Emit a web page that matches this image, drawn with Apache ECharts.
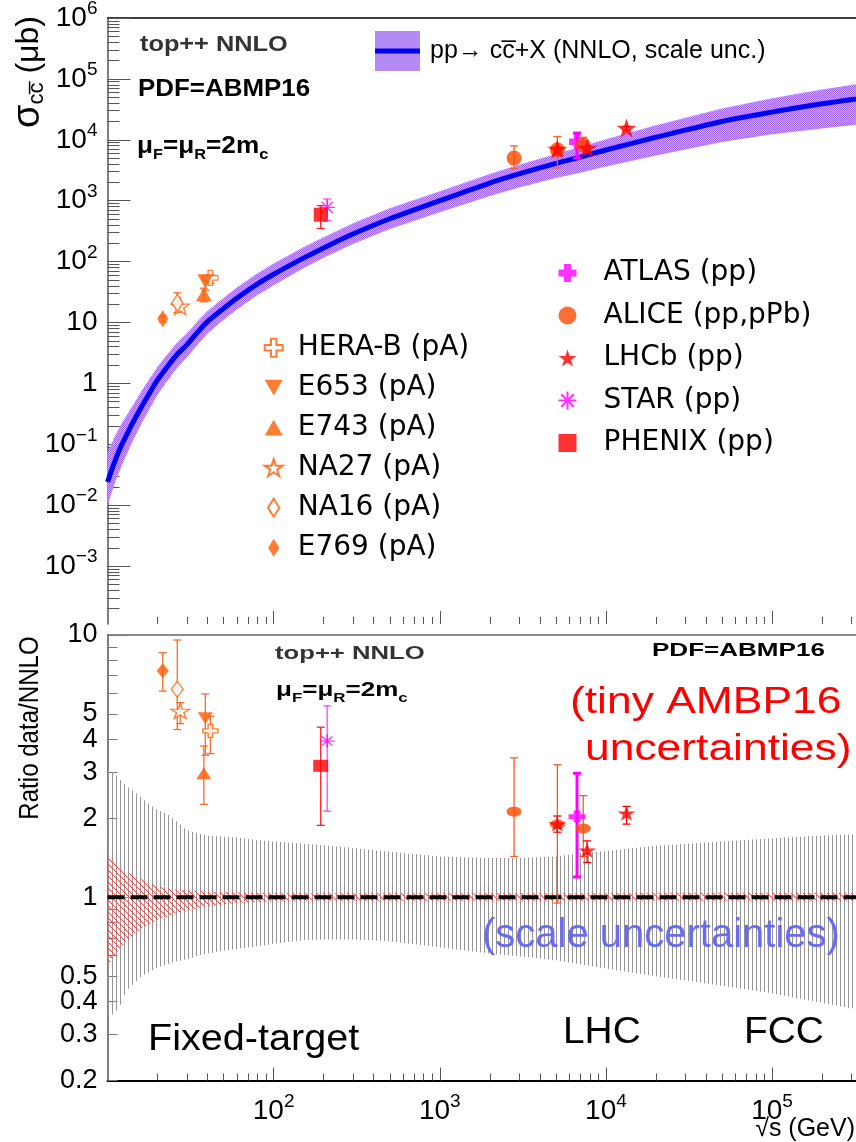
<!DOCTYPE html>
<html><head><meta charset="utf-8">
<script src="https://cdn.jsdelivr.net/npm/echarts@6/dist/echarts.min.js"></script>
<style>html,body{margin:0;padding:0;background:#fff}#c{width:856px;height:1142px}</style>
</head><body><div id="c"></div>
<script>
// ---------------- data ----------------
const sqrtS = [10,11,12,13,14,16,18,20,23,26,30,35,40,50,60,80,100,150,200,300,500,1000,2000,3000,5000,7000,10000,20000,50000,100000,200000,320000];
const nnloCentral = [0.024,0.05,0.09,0.14,0.21,0.41,0.71,1.14,1.9,2.9,4.3,7.0,10.3,17,25,43,62,113,168,283,505,1000,1950,2750,4100,5200,6800,11000,20000,28500,39000,47000];
const nnloUpper = [0.072,0.13,0.207,0.294,0.41,0.74,1.21,1.88,3.04,4.55,6.67,10.6,15.5,25.5,37.5,64.5,93,170,252,425,752,1430,2750,3880,5860,7640,10200,17300,32600,47900,67100,81800];
const nnloLower = [0.010,0.022,0.041,0.067,0.105,0.217,0.39,0.65,1.12,1.74,2.67,4.4,6.6,11.05,16.4,28.4,41,77,116,195,343,645,1190,1640,2360,2890,3640,5500,9200,12300,15400,17600];
const scaleRatioUpper = [3.05,2.97,2.8,2.65,2.57,2.4,2.25,2.15,2.07,1.95,1.8,1.75,1.72,1.70,1.69,1.65,1.63,1.6,1.58,1.54,1.49,1.43,1.41,1.41,1.43,1.47,1.50,1.57,1.63,1.68,1.72,1.74];
const scaleRatioLower = [0.35,0.36,0.39,0.44,0.46,0.5,0.52,0.54,0.555,0.57,0.58,0.6,0.61,0.625,0.635,0.65,0.665,0.685,0.69,0.69,0.68,0.645,0.61,0.595,0.575,0.555,0.535,0.50,0.46,0.43,0.395,0.375];
const pdfRatioUpper = [1.42,1.35,1.29,1.25,1.22,1.17,1.13,1.1,1.08,1.07,1.06,1.055,1.05,1.05,1.045,1.04,1.04,1.035,1.035,1.035,1.035,1.035,1.035,1.035,1.035,1.035,1.035,1.04,1.04,1.04,1.04,1.04];
const pdfRatioLower = [0.55,0.6,0.64,0.68,0.71,0.76,0.79,0.82,0.845,0.87,0.89,0.91,0.925,0.94,0.95,0.96,0.965,0.97,0.97,0.97,0.97,0.97,0.97,0.97,0.97,0.97,0.97,0.97,0.97,0.97,0.97,0.97];
const unityX = [10, 320000];
const unityY = [1, 1];

// per experiment: sqrt(s) [GeV]; sigma [value, low, high] (µb); ratio data/NNLO [value, low, high]
const heraB_sqrtS = [41.6];  const heraB_sigma = [[54, 44, 61]];      const heraB_ratio = [[4.31, 3.53, 4.9]];
const e653_sqrtS  = [38.8];  const e653_sigma  = [[47.5, 34, 59]];    const e653_ratio  = [[4.81, 3.48, 5.96]];
const e743_sqrtS  = [38.0];  const e743_sigma  = [[28.8, 21.9, 36.6]];const e743_ratio  = [[2.97, 2.26, 3.77]];
const na27_sqrtS  = [27.4];  const na27_sigma  = [[18.5, 16.6, 19.9]];const na27_ratio  = [[5.13, 4.59, 5.52]];
const na16_sqrtS  = [26.3];  const na16_sigma  = [[21, 14.7, 30.7]];  const na16_ratio  = [[6.21, 4.36, 9.57]];
const e769_sqrtS  = [21.5];  const e769_sigma  = [[11.5, 10.2, 12.8]]; const e769_ratio  = [[7.3, 6.11, 8.56]];
const atlas_sqrtS = [6700];  const atlas_sigma = [[9270, 5010, 12900]]; const atlas_ratio = [[2.03, 1.195, 2.97]];
const alice_sqrtS = [2800, 5100, 7300];
const alice_sigma = [[5010, 3350, 7940], [6860, 3440, 11300], [8280, 6470, 11000]];
const alice_ratio = [[2.12, 1.43, 3.40], [1.895, 0.95, 3.2], [1.83, 1.43, 2.44]];
const lhcb_sqrtS  = [5100, 7700, 13300];
const lhcb_sigma  = [[7030, 6500, 7600], [7310, 6600, 7950], [15560, 14200, 16600]];
const lhcb_ratio  = [[1.9, 1.77, 2.04], [1.51, 1.357, 1.64], [2.09, 1.9, 2.22]];
const star_sqrtS  = [210];   const star_sigma  = [[777, 470, 1067]];  const star_ratio  = [[3.94, 2.13, 5.37]];
const phenix_sqrtS= [192];   const phenix_sigma= [[589, 350, 830]];   const phenix_ratio= [[3.17, 1.88, 4.45]];

const xMajor = [100, 1000, 10000, 100000];
const yTopMajor = [1e-3, 1e-2, 0.1, 1, 10, 100, 1000, 1e4, 1e5, 1e6];
const yRatioLabels = [0.2, 0.3, 0.4, 0.5, 1, 2, 3, 4, 5, 10];

// ---------------- styling / building ----------------
const FONT = 'Liberation Sans';
const X_MIN = 10, X_MAX = 320000;
const YT_MIN = 1.12e-4, YT_MAX = 1e6;
const YR_MIN = 0.2, YR_MAX = 10;

function minorTicks(lo, hi) {
  const out = [];
  for (let e = Math.floor(Math.log10(lo)); e <= Math.ceil(Math.log10(hi)); e++) {
    for (let k = 2; k <= 9; k++) { const v = k * Math.pow(10, e); if (v >= lo && v <= hi) out.push(+v.toPrecision(3)); }
  }
  return out;
}
function makePattern(w, h, draw) {
  const c = document.createElement('canvas'); c.width = w; c.height = h;
  const ctx = c.getContext('2d'); draw(ctx); return { image: c, repeat: 'repeat' };
}
const purpleFill = makePattern(2, 2, ctx => {
  ctx.fillStyle = '#cfaefb'; ctx.fillRect(0, 0, 2, 2);
  ctx.fillStyle = '#a066f3'; ctx.fillRect(0, 0, 1, 1); ctx.fillRect(1, 1, 1, 1);
});
const grayFill = makePattern(4, 4, ctx => { ctx.fillStyle = '#959595'; ctx.fillRect(0, 0, 1, 4); });
const redFill = makePattern(6, 6, ctx => {
  ctx.strokeStyle = '#ff3b3b'; ctx.lineWidth = 1;
  ctx.beginPath(); ctx.moveTo(-1, -1); ctx.lineTo(7, 7); ctx.moveTo(-1, 5); ctx.lineTo(1, 7); ctx.moveTo(5, -1); ctx.lineTo(7, 1); ctx.stroke();
});

const supRich = {
  b: { fontFamily: FONT, fontSize: 28, color: '#000' },
  s: { fontFamily: FONT, fontSize: 19, color: '#000', padding: [0, 0, 18, 0] }
};
function powLabel(v) {
  const e = Math.round(Math.log10(v));
  if (e === 0) return '{b|1}';
  if (e === 1) return '{b|10}';
  return '{b|10}{s|' + (e < 0 ? '\u2212' + (-e) : e) + '}';
}
function ratioLabel(v) { return String(+v.toPrecision(2)); }
const labelBase = { show: true, fontFamily: FONT, fontSize: 27, color: '#000' };

function logAxis(o) {
  return Object.assign({
    type: 'log', logBase: 10, splitLine: { show: false }, minorTick: { show: false },
    axisLine: { show: false, onZero: false }, axisTick: { show: false }, axisLabel: { show: false }
  }, o);
}

const xAxes = [
  // top panel
  logAxis({ gridIndex: 0, position: 'bottom', min: X_MIN, max: X_MAX,
    axisTick: { show: true, inside: true, length: 13, customValues: xMajor, lineStyle: { color: '#555', width: 1 } } }),
  logAxis({ gridIndex: 0, position: 'bottom', min: X_MIN, max: X_MAX,
    axisTick: { show: true, inside: true, length: 7, customValues: minorTicks(X_MIN, X_MAX), lineStyle: { color: '#555', width: 1 } } }),
  logAxis({ gridIndex: 0, position: 'top', min: X_MIN, max: X_MAX, axisLine: { show: true, onZero: false, lineStyle: { color: '#000', width: 1.5 } } }),
  // ratio panel
  logAxis({ gridIndex: 1, position: 'bottom', min: X_MIN, max: X_MAX,
    axisLine: { show: true, onZero: false, lineStyle: { color: '#000', width: 2 } },
    axisTick: { show: true, inside: true, length: 13, customValues: xMajor, lineStyle: { color: '#555', width: 1 } },
    axisLabel: Object.assign({}, labelBase, { fontSize: 28, customValues: xMajor, margin: 12, formatter: powLabel, rich: supRich }) }),
  logAxis({ gridIndex: 1, position: 'bottom', min: X_MIN, max: X_MAX,
    axisTick: { show: true, inside: true, length: 7, customValues: minorTicks(X_MIN, X_MAX), lineStyle: { color: '#555', width: 1 } } }),
  logAxis({ gridIndex: 1, position: 'top', min: X_MIN, max: X_MAX, axisLine: { show: true, onZero: false, lineStyle: { color: '#666', width: 1.5 } } })
];
const yAxes = [
  logAxis({ gridIndex: 0, position: 'left', min: YT_MIN, max: YT_MAX,
    axisLine: { show: true, onZero: false, lineStyle: { color: '#555', width: 1.5 } },
    axisTick: { show: true, inside: true, length: 23, customValues: yTopMajor, lineStyle: { color: '#555', width: 1 } },
    axisLabel: Object.assign({}, labelBase, { fontSize: 28, customValues: yTopMajor, margin: 10, formatter: powLabel, rich: supRich }) }),
  logAxis({ gridIndex: 0, position: 'left', min: YT_MIN, max: YT_MAX,
    axisTick: { show: true, inside: true, length: 12, customValues: minorTicks(YT_MIN, YT_MAX), lineStyle: { color: '#555', width: 1 } } }),
  logAxis({ gridIndex: 1, position: 'left', min: YR_MIN, max: YR_MAX,
    axisLine: { show: true, onZero: false, lineStyle: { color: '#555', width: 1.5 } },
    axisTick: { show: true, inside: true, length: 20, customValues: [1, 10], lineStyle: { color: '#777', width: 1 } },
    axisLabel: Object.assign({}, labelBase, { customValues: yRatioLabels, margin: 10, formatter: ratioLabel }) }),
  logAxis({ gridIndex: 1, position: 'left', min: YR_MIN, max: YR_MAX,
    axisTick: { show: true, inside: true, length: 10, customValues: minorTicks(YR_MIN, YR_MAX).filter(v => v !== 1 && v !== 10), lineStyle: { color: '#777', width: 1 } } })
];

function bandSeries(name, xs, lo, hi, fill, gi, z, legendColor) {
  return {
    type: 'custom', name, xAxisIndex: gi === 0 ? 0 : 3, yAxisIndex: gi === 0 ? 0 : 2, z, silent: true,
    itemStyle: { color: legendColor || '#999' },
    data: [[xs[0], lo[0]]],
    renderItem(params, api) {
      const pts = [];
      for (let i = 0; i < xs.length; i++) pts.push(api.coord([xs[i], hi[i]]));
      for (let i = xs.length - 1; i >= 0; i--) pts.push(api.coord([xs[i], lo[i]]));
      return { type: 'polygon', shape: { points: pts }, style: { fill, stroke: null } };
    }
  };
}
function zipXY(xs, ys) { return xs.map((x, i) => [x, ys[i]]); }

const SYM = {
  cross: 'path://M35,0H65V35H100V65H65V100H35V65H0V35H35Z',
  fatCross: 'path://M30,0H70V30H100V70H70V100H30V70H0V30H30Z',
  star: 'path://M50,0L61.8,35.3H98.9L68.9,57.1L80.3,92.7L50,70.9L19.7,92.7L31.1,57.1L1.1,35.3H38.2Z',
  asterisk: 'path://M50,0V100M0,50H100M15,15L85,85M85,15L15,85',
  down: 'path://M0,0H100L50,87Z',
  up: 'path://M50,0L100,87H0Z',
  diamond: 'path://M50,0L100,80L50,160L0,80Z'
};
const ORANGE = '#ff5c00', ORANGE_ERR = '#ff6a2a';
const experiments = [
  { name: 'HERA-B (pA)', xs: heraB_sqrtS, sig: heraB_sigma, rat: heraB_ratio, sym: SYM.cross, size: [15, 15], rsize: [15, 13], hollow: true, color: ORANGE, err: ORANGE_ERR, ew: 1.3 },
  { name: 'E653 (pA)', xs: e653_sqrtS, sig: e653_sigma, rat: e653_ratio, sym: SYM.down, size: [16, 14], rsize: [15, 12], color: ORANGE, err: ORANGE_ERR, ew: 1.3 },
  { name: 'E743 (pA)', xs: e743_sqrtS, sig: e743_sigma, rat: e743_ratio, sym: SYM.up, size: [16, 14], rsize: [15, 12], color: ORANGE, err: ORANGE_ERR, ew: 1.3 },
  { name: 'NA27 (pA)', xs: na27_sqrtS, sig: na27_sigma, rat: na27_ratio, sym: SYM.star, size: [18, 17], rsize: [19, 15], hollow: true, color: ORANGE, err: ORANGE_ERR, ew: 1.3 },
  { name: 'NA16 (pA)', xs: na16_sqrtS, sig: na16_sigma, rat: na16_ratio, sym: SYM.diamond, size: [11, 17], rsize: [12, 16], hollow: true, color: ORANGE, err: ORANGE_ERR, ew: 1.3 },
  { name: 'E769 (pA)', xs: e769_sqrtS, sig: e769_sigma, rat: e769_ratio, sym: SYM.diamond, size: [11, 17], rsize: [12, 15], color: ORANGE, err: ORANGE_ERR, ew: 1.3 },
  { name: 'ATLAS (pp)', xs: atlas_sqrtS, sig: atlas_sigma, rat: atlas_ratio, sym: SYM.fatCross, size: [16, 16], rsize: [17, 12], color: '#ff00ff', err: '#ff00ff', ew: 3 },
  { name: 'ALICE (pp,pPb)', xs: alice_sqrtS, sig: alice_sigma, rat: alice_ratio, sym: 'circle', size: [15, 15], rsize: [15, 10], color: '#ff4a00', err: '#ff5a20', ew: 1.3 },
  { name: 'LHCb (pp)', xs: lhcb_sqrtS, sig: lhcb_sigma, rat: lhcb_ratio, sym: SYM.star, size: [20, 19], rsize: [18, 15], color: '#ff0000', err: '#ff0000', ew: 1.3 },
  { name: 'STAR (pp)', xs: star_sqrtS, sig: star_sigma, rat: star_ratio, sym: SYM.asterisk, size: [16, 16], rsize: [15, 13], stroke: true, color: '#ff00ff', err: '#ff44ff', ew: 1.3 },
  { name: 'PHENIX (pp)', xs: phenix_sqrtS, sig: phenix_sigma, rat: phenix_ratio, sym: 'rect', size: [14, 14], rsize: [15, 12], color: '#ff0000', err: '#ff2020', ew: 1.3 }
];

function errSeries(ex, rows, xi, yi) {
  return {
    type: 'custom', name: ex.name + ' err', xAxisIndex: xi, yAxisIndex: yi, z: 5, silent: true,
    data: ex.xs.map((x, i) => [x, rows[i][0], rows[i][1], rows[i][2]]),
    renderItem(params, api) {
      const x = api.value(0), lo = api.value(2), hi = api.value(3);
      const a = api.coord([x, lo]), b = api.coord([x, hi]);
      const st = { stroke: ex.err, lineWidth: ex.ew };
      const cap = 4;
      return { type: 'group', children: [
        { type: 'line', shape: { x1: a[0], y1: a[1], x2: b[0], y2: b[1] }, style: st },
        { type: 'line', shape: { x1: a[0] - cap, y1: a[1], x2: a[0] + cap, y2: a[1] }, style: st },
        { type: 'line', shape: { x1: b[0] - cap, y1: b[1], x2: b[0] + cap, y2: b[1] }, style: st }
      ] };
    }
  };
}
function markerSeries(ex, rows, xi, yi, size) {
  const itemStyle = ex.stroke
    ? { color: 'none', borderColor: ex.color, borderWidth: 1.3 }
    : ex.hollow ? { color: '#ffffff', borderColor: ex.color, borderWidth: 1.3 } : { color: ex.color, borderWidth: 0 };
  return {
    type: 'scatter', name: ex.name, xAxisIndex: xi, yAxisIndex: yi, z: 6, silent: true,
    symbol: ex.sym, symbolSize: size, symbolKeepAspect: false, itemStyle,
    data: ex.xs.map((x, i) => [x, rows[i][0]])
  };
}

const LINE_NAME = 'pp\u2192 cc\u0305+X (NNLO, scale unc.)';
const series = [
  bandSeries('NNLO band', sqrtS, nnloLower, nnloUpper, purpleFill, 0, 2, '#b48af5'),
  { type: 'line', name: LINE_NAME, xAxisIndex: 0, yAxisIndex: 0, z: 3, smooth: 0.3, symbol: 'none', silent: true,
    color: '#0000f0', lineStyle: { color: '#0000f0', width: 5 }, data: zipXY(sqrtS, nnloCentral) },
  bandSeries('scale ratio band', sqrtS, scaleRatioLower, scaleRatioUpper, grayFill, 1, 2),
  bandSeries('pdf ratio band', sqrtS, pdfRatioLower, pdfRatioUpper, redFill, 1, 3),
  { type: 'line', name: 'unity', xAxisIndex: 3, yAxisIndex: 2, z: 4, symbol: 'none', silent: true,
    lineStyle: { color: '#000', width: 4, type: [17, 6] }, data: zipXY(unityX, unityY) }
];
experiments.forEach(ex => {
  series.push(errSeries(ex, ex.sig, 0, 0));
  series.push(markerSeries(ex, ex.sig, 0, 0, ex.size));
  series.push(errSeries(ex, ex.rat, 3, 2));
  series.push(markerSeries(ex, ex.rat, 3, 2, ex.rsize));
});

const legendText = { fontFamily: 'DejaVu Sans', fontSize: 28, color: '#000', lineHeight: 30 };
const legends = [
  { data: [{ name: 'NNLO band', icon: 'rect', itemStyle: { color: '#b48af5' } }], left: 375, top: 31, padding: 0,
    itemWidth: 45, itemHeight: 40, formatter: () => '', selectedMode: false, textStyle: { fontSize: 1 } },
  { data: [{ name: LINE_NAME, icon: 'rect', itemStyle: { color: '#0000f0' } }], left: 375, top: 36, padding: 0,
    itemWidth: 45, itemHeight: 5, selectedMode: false,
    textStyle: { fontFamily: FONT, fontSize: 25, color: '#000', lineHeight: 30, padding: [0, 0, 0, 5] } },
  { data: experiments.slice(0, 6).map(e => e.name), left: 263.7, top: 332.7, orient: 'vertical', padding: 0,
    itemGap: 10, itemWidth: 18, itemHeight: 18, selectedMode: false,
    textStyle: Object.assign({ padding: [0, 0, 0, 10] }, legendText) },
  { data: experiments.slice(6).map(e => e.name), left: 556, top: 258, orient: 'vertical', padding: 0,
    itemGap: 12.5, itemWidth: 18, itemHeight: 18, selectedMode: false,
    textStyle: Object.assign({ padding: [0, 0, 0, 22] }, legendText) }
];

function txt(x, y, text, style, el) {
  return Object.assign({ type: 'text', x, y, silent: true, z: 50,
    style: Object.assign({ text, fontFamily: FONT, fill: '#000', align: 'left', verticalAlign: 'middle' }, style) }, el || {});
}
const muRich = (m, s, pad) => ({
  m: { fontFamily: FONT, fontSize: m, fontWeight: 'bold', fill: '#000' },
  s: { fontFamily: FONT, fontSize: s, fontWeight: 'bold', fill: '#000', padding: [pad, 0, 0, 0] }
});
const MU_TEXT = '{m|\u03bc}{s|F}{m|=\u03bc}{s|R}{m|=2m}{s|c}';
const graphics = [
  txt(140, 45, 'top++ NNLO', { fontSize: 22, fontWeight: 'bold', fill: '#333' }, { scaleX: 1.15 }),
  txt(138, 89, 'PDF=ABMP16', { fontSize: 24, fontWeight: 'bold' }, { scaleX: 1.08 }),
  txt(137, 146, MU_TEXT, { rich: muRich(24, 15, 18) }, { scaleX: 1.09 }),
  txt(275, 654, 'top++ NNLO', { fontSize: 19, fontWeight: 'bold', fill: '#333' }, { scaleX: 1.35 }),
  txt(276, 690, MU_TEXT, { rich: muRich(20, 13, 16) }, { scaleX: 1.3 }),
  txt(652, 651, 'PDF=ABMP16', { fontSize: 19, fontWeight: 'bold' }, { scaleX: 1.37 }),
  txt(570, 703, '(tiny AMBP16', { fontSize: 37, fill: '#ff0000' }, { scaleX: 1.2 }),
  txt(585, 750, 'uncertainties)', { fontSize: 37, fill: '#ff0000' }, { scaleX: 1.2 }),
  txt(482, 936, '(scale uncertainties)', { fontSize: 40, fill: '#6a6af2' }),
  txt(148, 1040, 'Fixed-target', { fontSize: 36 }, { scaleX: 1.1 }),
  txt(563, 1033, 'LHC', { fontSize: 36 }, { scaleX: 1.08 }),
  txt(744, 1033, 'FCC', { fontSize: 36 }, { scaleX: 1.08 }),
  txt(855, 1129, '\u221As (GeV)', { fontSize: 25, align: 'right' }),
  txt(29, 72, '{g|\u03c3}{s|cc\u0305}{n| (\u03bcb)}', { align: 'center',
    rich: { g: { fontFamily: FONT, fontSize: 38, fill: '#000' }, s: { fontFamily: FONT, fontSize: 22, fill: '#000', padding: [16, 0, 0, 0] }, n: { fontFamily: FONT, fontSize: 32, fill: '#000' } } },
    { rotation: Math.PI / 2 }),
  txt(30, 728, 'Ratio data/NNLO', { fontSize: 28, align: 'center' }, { rotation: Math.PI / 2, scaleX: 0.86 })
];

const chart = echarts.init(document.getElementById('c'), null, { renderer: 'canvas' });
chart.setOption({
  animation: false,
  backgroundColor: '#fff',
  textStyle: { fontFamily: FONT },
  grid: [
    { left: 107.5, top: 18, width: 748.5, height: 606, containLabel: false, outerBoundsMode: 'none' },
    { left: 107.5, top: 635, width: 748.5, height: 445.5, containLabel: false, outerBoundsMode: 'none' }
  ],
  xAxis: xAxes,
  yAxis: yAxes,
  legend: legends,
  series,
  graphic: graphics
});
</script>
</body></html>
